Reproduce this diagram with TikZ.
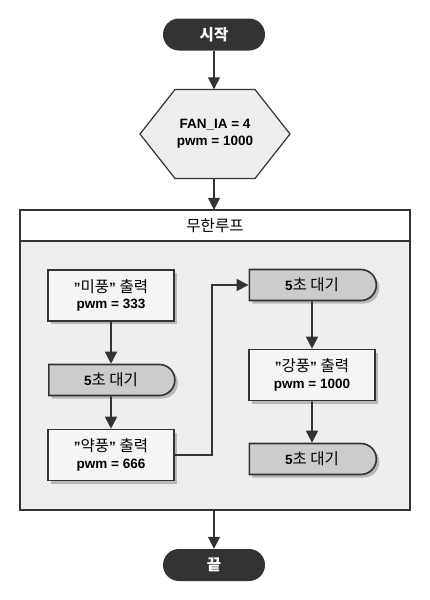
\documentclass[tikz,border=0pt]{standalone}
\usepackage{fontspec}
\setmainfont{Liberation Sans}
\newfontfamily\kr{Noto Sans CJK KR}[Scale=1.15]
\usetikzlibrary{shapes.misc,shadows,arrows.meta}
\newcommand\K[1]{{\kr\mdseries #1}}
\newcommand\KB[1]{{\kr\bfseries #1}}
\newcommand\Q{\symbol{"0022}}
\definecolor{ink}{HTML}{333333}
\definecolor{bodygray}{HTML}{EEEEEE}
\definecolor{procfill}{HTML}{F5F5F5}
\definecolor{delayfill}{HTML}{CCCCCC}
\tikzset{
  every node/.style={font=\fontsize{13.5}{16.5}\selectfont\bfseries, align=center, inner sep=0pt},
  term/.style={rounded rectangle, fill=ink, text=white, minimum width=102pt, minimum height=32pt},
  shad/.style={drop shadow={shadow xshift=3pt, shadow yshift=-3pt, fill=black!28, opacity=1}},
  proc/.style={rectangle, draw=ink, line width=1.6pt, fill=procfill, minimum width=126pt, minimum height=51pt, shad},
  delaybox/.style={rounded rectangle, rounded rectangle west arc=none, draw=ink, line width=1.6pt, fill=delayfill, minimum width=126pt, minimum height=31pt, shad},
  conn/.style={draw=ink, line width=1.6pt, -{Triangle[width=12pt,length=12pt]}},
  plainline/.style={draw=ink, line width=1.6pt},
}
\begin{document}
\begin{tikzpicture}[x=1pt,y=-1pt]
\useasboundingbox (0,0) rectangle (430,600);
% start
\node[term] (start) at (214,34.5) {\KB{시작}};
% hexagon
\coordinate (h1) at (140,134);
\coordinate (h2) at (175,89.5);
\coordinate (h3) at (255,89.5);
\coordinate (h4) at (290,134);
\coordinate (h5) at (255,178.5);
\coordinate (h6) at (175,178.5);
\filldraw[draw=ink, fill=bodygray, line width=1.2pt] (h1) -- (h2) -- (h3) -- (h4) -- (h5) -- (h6) -- cycle;
\node[minimum width=150pt, minimum height=89pt] (hex) at (215,134) {FAN\_IA = 4\\pwm = 1000};
% loop
\node[rectangle, minimum width=390pt, minimum height=300pt] (loop) at (215,360) {};
\coordinate (hdl) at (20,241);
\coordinate (hdr) at (410,241);
\fill[white] (loop.north west) rectangle (hdr);
\fill[bodygray] (hdl) rectangle (loop.south east);
\draw[plainline] (hdl) -- (hdr);
\draw[plainline] (loop.north west) rectangle (loop.south east);
\node (loopt) at (215,226) {\K{무한루프}};
% left column
\node[proc] (mi) at (111,295.5) {\Q\K{미풍}\Q{} \K{출력}\\pwm = 333};
\node[delaybox] (d1) at (111,380) {5\K{초 대기}};
\node[proc] (yak) at (111,455) {\Q\K{약풍}\Q{} \K{출력}\\pwm = 666};
% right column
\node[delaybox, minimum width=127pt] (d2) at (312,285) {5\K{초 대기}};
\node[proc] (kang) at (312,375) {\Q\K{강풍}\Q{} \K{출력}\\pwm = 1000};
\node[delaybox, minimum width=127pt] (d3) at (312,459) {5\K{초 대기}};
% end
\node[term] (end) at (214,565) {\KB{끝}};
% connectors
\draw[conn] (start.south) -- (start.south |- hex.north);
\draw[conn] (start.south |- hex.south) -- (start.south |- loop.north);
\draw[conn] (mi) -- (d1);
\draw[conn] (d1) -- (yak);
\coordinate (bend) at (212,0);
\draw[conn] (yak.east) -- (yak.east -| bend) -- (bend |- d2.west) -- (d2.west);
\draw[conn] (d2) -- (kang);
\draw[conn] (kang) -- (d3);
\draw[conn] (end.north |- loop.south) -- (end.north);
\end{tikzpicture}
\end{document}
